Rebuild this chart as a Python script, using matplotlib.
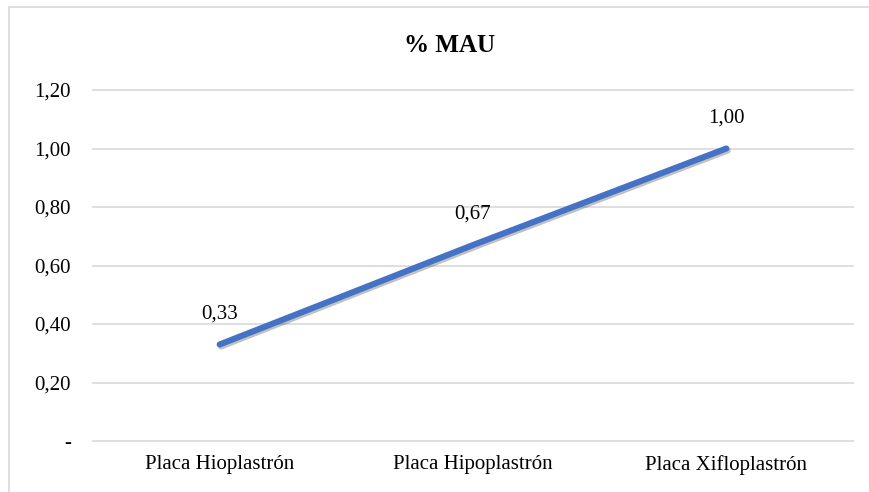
import matplotlib
matplotlib.use("Agg")
import matplotlib.pyplot as plt
import matplotlib.patheffects as pe
from matplotlib.patches import Rectangle

plt.rcParams["font.family"] = ["Liberation Serif", "DejaVu Serif"]

categorias = ["Placa Hioplastrón", "Placa Hipoplastrón", "Placa Xifloplastrón"]
mau = [0.33, 0.67, 1.00]
etiquetas = ["0,33", "0,67", "1,00"]
yticks = [0, 0.2, 0.4, 0.6, 0.8, 1.0, 1.2]
ytick_labels = ["-", "0,20", "0,40", "0,60", "0,80", "1,00", "1,20"]

fig = plt.figure(figsize=(8.7, 4.92), dpi=100)
# marco del grafico (recortado abajo y a la derecha)
fig.patches.append(Rectangle((9 / 870, -0.05), 1.2, (492 - 7) / 492 + 0.05,
                             transform=fig.transFigure, fill=False,
                             edgecolor="#D9D9D9", linewidth=1.2))

ax = fig.add_axes([93 / 870, 51 / 492, 760 / 870, 351 / 492])
x = range(len(categorias))
ax.plot(x, mau, color="#4472C4", linewidth=4.4, solid_capstyle="round",
        path_effects=[pe.SimpleLineShadow(offset=(1, -1.5), alpha=0.3, shadow_color="#333333"),
                      pe.Normal()], zorder=3)
for xi, v, t in zip(x, mau, etiquetas):
    ax.annotate(t, (xi, v), xytext=(0, 22), textcoords="offset points",
                ha="center", va="center", fontsize=15)

ax.set_xlim(-0.5, 2.5)
ax.set_ylim(0, 1.2)
ax.set_yticks(yticks)
ax.set_yticklabels(ytick_labels)
ax.set_xticks(list(x))
ax.set_xticklabels(categorias)
ax.tick_params(axis="y", length=0, pad=16, labelsize=15)
ax.tick_params(axis="x", length=0, pad=10, labelsize=15)
ax.grid(axis="y", color="#D9D9D9", linewidth=1.2)
for gl in ax.get_ygridlines():
    gl.set_clip_on(False)
ax.set_axisbelow(True)
for s in ax.spines.values():
    s.set_visible(False)

fig.text(450 / 870, (492 - 45) / 492, "% MAU", ha="center", va="center",
         fontsize=18, fontweight="bold")

fig.savefig("out.png", dpi=100)
